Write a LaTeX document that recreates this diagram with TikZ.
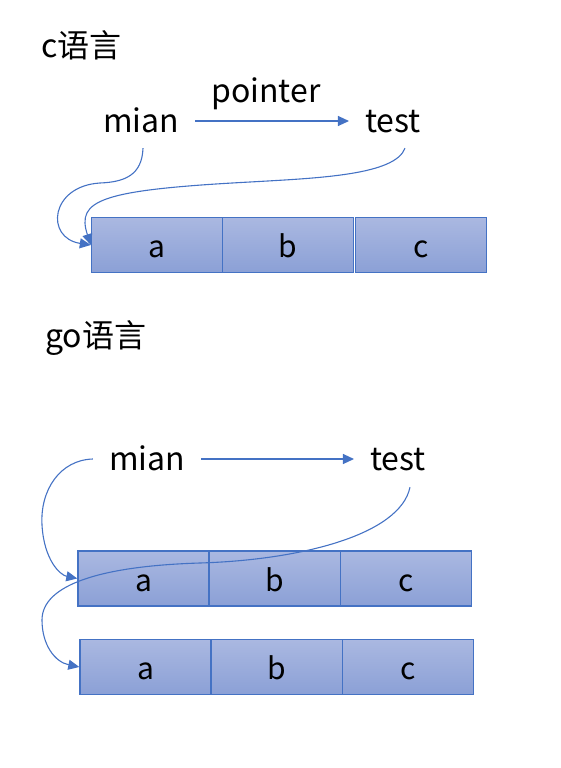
\documentclass[tikz,border=0pt]{standalone}
\usepackage{fontspec}
\setmainfont{Noto Sans CJK SC}
\usetikzlibrary{arrows.meta}
\definecolor{cellline}{RGB}{68,114,196}
\definecolor{celltop}{RGB}{170,184,225}
\definecolor{cellbot}{RGB}{139,160,214}
\begin{document}
\begin{tikzpicture}[x=1pt,y=-1pt,>={Triangle[length=11pt,width=10pt]},
 cell/.style={draw=cellline,line width=1.4pt,top color=celltop,bottom color=cellbot,minimum width=131pt,minimum height=55pt,inner sep=0pt,text height=25pt,text depth=0pt,font=\fontsize{30}{32}\selectfont},
 word/.style={inner xsep=16pt,inner ysep=0pt,text height=22pt,text depth=0pt,font=\fontsize{32}{34}\selectfont},
 title/.style={inner sep=0pt,anchor=base west,font=\fontsize{32}{34}\selectfont},
 ptr/.style={->,draw=cellline,line width=1.1pt}]
\useasboundingbox (0,0) rectangle (560,768);

%c语言
\node[title] (ctitle) at (41,57) {c语言};
\node[word,anchor=base] (cmian) at (141,132) {mian};
\node[word,anchor=base] (ctest) at (393,132) {test};
\node[inner sep=0pt,anchor=base,font=\fontsize{32}{34}\selectfont] (cpointer) at (266,102) {pointer};
\node[cell] (ca) at (157,245) {a};
\node[cell] (cb) at (288,245) {b};
\node[cell] (cc) at (421,245) {c};

\draw[ptr] (cmian.east) -- (ctest.west);
\draw[ptr] ([xshift=2pt,yshift=-16pt]cmian.south) .. controls (142,175) and (125,182) .. (100,183)
 .. controls (50,186) and (45,238) .. (ca.west);
\draw[ptr] ([xshift=12pt,yshift=-16pt]ctest.south) .. controls (395,175) and (320,178) .. (250,182)
 .. controls (100,190) and (76,200) .. (ca.west);

%go语言
\node[title] (gotitle) at (45,347) {go语言};
\node[word,anchor=base] (gomian) at (147,470) {mian};
\node[word,anchor=base] (gotest) at (398,470) {test};
\node[cell] (goa) at (143.5,578.5) {a};
\node[cell] (gob) at (275,578.5) {b};
\node[cell] (goc) at (406,578.5) {c};
\node[cell] (goa2) at (145.5,667) {a};
\node[cell] (gob2) at (277,667) {b};
\node[cell] (goc2) at (408,667) {c};

\draw[ptr] (gomian.east) -- (gotest.west);
\draw[ptr] (gomian.west) .. controls (60,460) and (40,490) .. (42,525)
 .. controls (44,560) and (60,575) .. (goa.west);
\draw[ptr] ([xshift=12pt,yshift=-17pt]gotest.south) .. controls (400,535) and (300,560) .. (200,563)
 .. controls (100,566) and (42,585) .. (42,620) .. controls (42,645) and (55,662) .. (goa2.west);

\end{tikzpicture}
\end{document}
